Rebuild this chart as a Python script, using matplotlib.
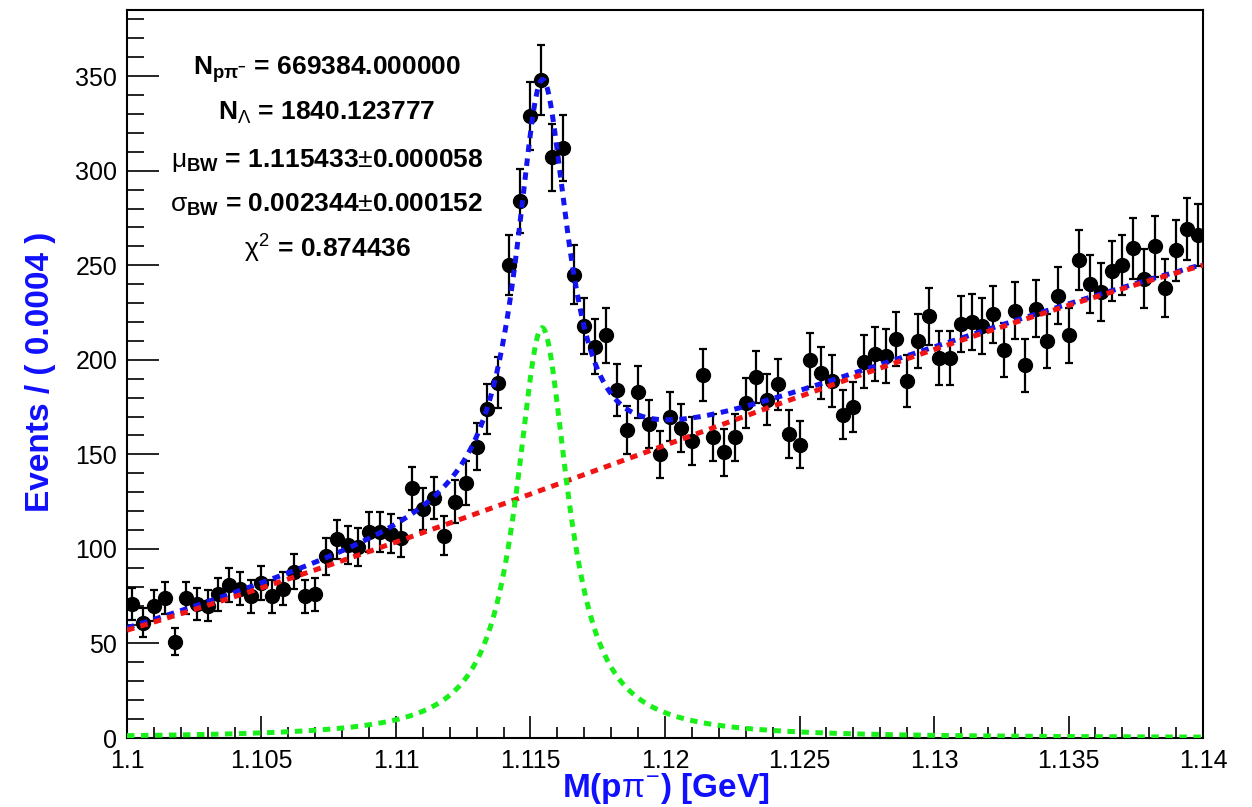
import numpy as np
import matplotlib
matplotlib.use('Agg')
import matplotlib.pyplot as plt
from matplotlib.ticker import MultipleLocator, FormatStrFormatter

#Datos (eventos por bin de 0.0004 GeV)
x_lo = 1.1
x_hi = 1.14
bin_w = 0.0004
counts = [71, 61, 70, 74, 51, 74, 71, 70, 76, 81, 79, 75, 82, 75, 79, 88, 75, 76, 96, 105,
          102, 101, 109, 109, 108, 106, 132, 121, 127, 107, 125, 135, 154, 174, 188, 250, 284, 329, 348, 307,
          312, 245, 218, 207, 213, 184, 163, 183, 166, 150, 170, 164, 157, 192, 159, 151, 159, 177, 191, 179,
          187, 161, 155, 200, 193, 189, 171, 175, 199, 203, 202, 211, 189, 210, 223, 201, 201, 219, 220, 218,
          224, 205, 226, 197, 227, 210, 234, 213, 253, 240, 236, 247, 250, 259, 243, 260, 238, 258, 269, 266]

#Parametros del ajuste
mu_bw = 1.115433
sigma_bw = 0.002344
sig_peak = 217.0
bkg_coef = [57.0, 170.0, 80.0, -57.0]   # polinomio en t=(m-1.1)/0.04

txt_lines = [r'N$_{\mathbf{p\pi^{-}}}$ = 669384.000000',
             r'N$_{\Lambda}$ = 1840.123777',
             r'$\mu_{\mathbf{BW}}$ = 1.115433$\pm$0.000058',
             r'$\sigma_{\mathbf{BW}}$ = 0.002344$\pm$0.000152',
             r'$\chi^{2}$ = 0.874436']
txt_y = [0.9107, 0.8489, 0.7843, 0.7225, 0.6593]

plt.rcParams['font.family'] = ['Liberation Sans', 'DejaVu Sans']
plt.rcParams['mathtext.fontset'] = 'custom'
plt.rcParams['mathtext.rm'] = 'Liberation Sans'
plt.rcParams['mathtext.it'] = 'Liberation Sans'
plt.rcParams['mathtext.bf'] = 'Liberation Sans:bold'

counts = np.array(counts, dtype=float)
centers = x_lo + bin_w*(np.arange(len(counts)) + 0.5)
err = np.sqrt(counts)

m = np.linspace(x_lo, x_hi, 1200)
t = (m - x_lo)/(x_hi - x_lo)
bkg = sum(c*t**k for k, c in enumerate(bkg_coef))
sig = sig_peak/(1.0 + ((m - mu_bw)/(sigma_bw/2.0))**2)
tot = bkg + sig

fig = plt.figure(figsize=(12.52, 8.07), dpi=100)
ax = fig.add_axes([0.1014, 0.0855, 0.8595, 0.9021])

ax.errorbar(centers, counts, yerr=err, fmt='o', color='black', ms=10,
            elinewidth=1.6, capsize=3, capthick=1.6, zorder=3)

ax.plot(m, tot, color='#1414f0', lw=3.6, dashes=(1.5, 1.3), zorder=4)
ax.plot(m, bkg, color='#f01414', lw=3.6, dashes=(1.5, 1.3), zorder=5)
ax.plot(m, sig, color='#19f019', lw=3.6, dashes=(1.5, 1.3), zorder=5)

for s, yy in zip(txt_lines, txt_y):
    ax.text(0.186, yy, s, transform=ax.transAxes, ha='center', va='baseline',
            fontsize=19, fontweight='bold')

ax.set_xlim(x_lo, x_hi)
ax.set_ylim(0, 385)
ax.xaxis.set_major_locator(MultipleLocator(0.005))
ax.xaxis.set_minor_locator(MultipleLocator(0.001))
ax.yaxis.set_major_locator(MultipleLocator(50))
ax.yaxis.set_minor_locator(MultipleLocator(10))
ax.xaxis.set_major_formatter(FormatStrFormatter('%g'))

ax.tick_params(axis='both', which='both', direction='in', labelsize=18, width=1.2)
ax.tick_params(axis='x', which='major', length=16, pad=8)
ax.tick_params(axis='x', which='minor', length=8)
ax.tick_params(axis='y', which='major', length=23, pad=7)
ax.tick_params(axis='y', which='minor', length=12)
for sp in ax.spines.values():
    sp.set_linewidth(1.5)

ax.set_xlabel(r'M(p$\pi^{-}$) [GeV]', fontsize=24, fontweight='bold', color='#1010ff')
ax.set_ylabel('Events / ( 0.0004 )', fontsize=24, fontweight='bold', color='#1010ff')
ax.xaxis.set_label_coords(0.501, -0.046)
ax.yaxis.set_label_coords(-0.066, 0.503)

plt.savefig('out.png', dpi=100)
